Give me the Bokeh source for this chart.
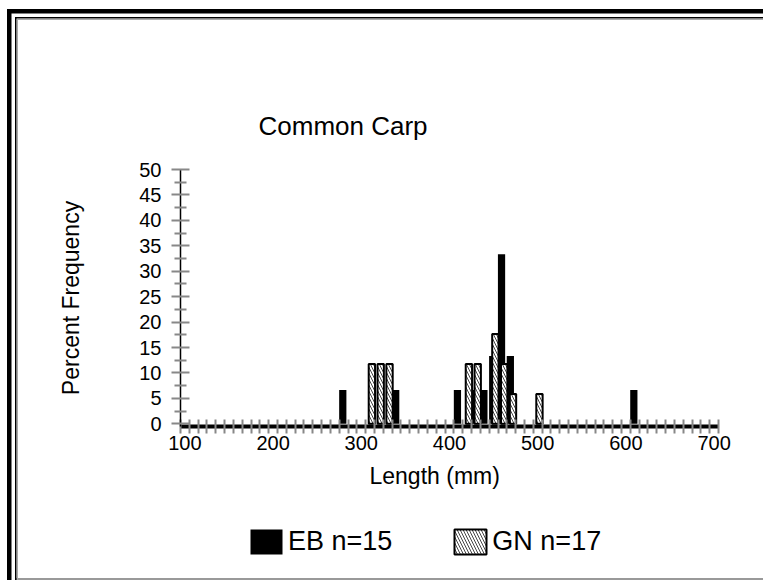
from bokeh.plotting import figure
from bokeh.layouts import column
from bokeh.models import (Range1d, FixedTicker, Legend, LegendItem, Title,
                          ColumnDataSource)
from bokeh.transform import dodge
from bokeh.embed import file_html
from bokeh.resources import INLINE

# ---------------- data ----------------
title_text = "Common Carp"
x_title = "Length (mm)"
y_title = "Percent Frequency"
eb_label = "EB n=15"
gn_label = "GN n=17"

x_tick_values = [100, 200, 300, 400, 500, 600, 700]
x_bin_edges = list(range(95, 710, 10))
y_tick_values = [0, 5, 10, 15, 20, 25, 30, 35, 40, 45, 50]
y_minor_values = [2.5, 7.5, 12.5, 17.5, 22.5, 27.5, 32.5, 37.5, 42.5, 47.5]

eb_length = [280, 340, 410, 430, 440, 450, 460, 470, 610]
eb_pct = [6.67, 6.67, 6.67, 6.67, 6.67, 13.33, 33.33, 13.33, 6.67]
gn_length = [310, 320, 330, 420, 430, 450, 460, 470, 500]
gn_pct = [11.76, 11.76, 11.76, 11.76, 11.76, 17.65, 11.76, 5.88, 5.88]

# ---------------- layout ----------------
W = 763
H_MAIN, H_LEG = 500, 80
BL, BR, BT, BB = 180, 45, 169, 74
FONT = "Liberation Sans"

p = figure(width=W, height=H_MAIN, output_backend="svg", toolbar_location=None,
           x_range=Range1d(95, 705), y_range=Range1d(-0.53, 50),
           min_border_left=BL, min_border_right=BR,
           min_border_top=BT, min_border_bottom=BB)
p.outline_line_color = None
p.grid.visible = False
p.background_fill_color = "white"
p.border_fill_color = None

eb_src = ColumnDataSource(dict(x=eb_length, y=eb_pct))
gn_src = ColumnDataSource(dict(x=gn_length, y=gn_pct))

EB_STYLE = dict(fill_color="black", line_color=None)
GN_STYLE = dict(fill_color="white", line_color="black", line_width=2,
                hatch_pattern="\\", hatch_color="#444444", hatch_scale=6,
                hatch_weight=1)

r_eb = p.vbar(x=dodge("x", -1.0, range=p.x_range), top="y", bottom=0, width=8.2,
              source=eb_src, **EB_STYLE)
r_gn = p.vbar(x=dodge("x", 2.0, range=p.x_range), top="y", bottom=0, width=7.2,
              source=gn_src, **GN_STYLE)

# chart title
p.title.text = title_text
p.title.align = "left"
p.title.offset = 78
p.title.standoff = 58
p.title.text_font = FONT
p.title.text_font_size = "26px"
p.title.text_font_style = "normal"
p.title.text_color = "black"

# axes
xa = p.xaxis[0]
xa.ticker = FixedTicker(ticks=x_tick_values, minor_ticks=x_bin_edges)
xa.axis_line_color = "black"
xa.axis_line_width = 4
xa.major_tick_line_color = None
xa.major_tick_in = 0
xa.major_tick_out = 7
xa.minor_tick_line_color = "#888888"
xa.minor_tick_line_width = 2
xa.minor_tick_in = 7
xa.minor_tick_out = 7
xa.major_label_text_font = FONT
xa.major_label_text_font_size = "20px"
xa.major_label_text_color = "black"
xa.major_label_standoff = 2

ya = p.yaxis[0]
ya.ticker = FixedTicker(ticks=y_tick_values, minor_ticks=y_minor_values)
ya.axis_line_color = "black"
ya.axis_line_width = 1.5
ya.major_tick_line_color = "#888888"
ya.major_tick_line_width = 2
ya.major_tick_in = 9
ya.major_tick_out = 9
ya.minor_tick_line_color = "#888888"
ya.minor_tick_line_width = 2
ya.minor_tick_in = 6
ya.minor_tick_out = 6
ya.major_label_text_font = FONT
ya.major_label_text_font_size = "20px"
ya.major_label_text_color = "black"
ya.major_label_standoff = 10
ya.axis_label = y_title
ya.axis_label_text_font = FONT
ya.axis_label_text_font_size = "23px"
ya.axis_label_text_font_style = "normal"
ya.axis_label_text_color = "black"
ya.axis_label_standoff = 52

# x-axis title (placed in the bottom panel so it can be offset like the original)
xt = Title(text=x_title, align="left", offset=189, standoff=17,
           text_font=FONT, text_font_size="23px", text_font_style="normal",
           text_color="black")
p.add_layout(xt, "below")

# ---------------- legend strip ----------------
# hidden proxy renderers that only feed the legend swatches
p2 = figure(width=W, height=H_LEG, output_backend="svg", toolbar_location=None,
            x_range=Range1d(95, 705), y_range=Range1d(1000, 1001),
            x_axis_type=None, y_axis_type=None, title=None,
            min_border_left=0, min_border_right=0,
            min_border_top=0, min_border_bottom=0)
p2.outline_line_color = None
p2.background_fill_color = None
p2.border_fill_color = None
l_eb = p2.vbar(x="x", top="y", bottom=0, width=8.2, source=eb_src, **EB_STYLE)
l_gn = p2.vbar(x="x", top="y", bottom=0, width=7.2, source=gn_src, **GN_STYLE)
l_eb.visible = False
l_gn.visible = False

legend = Legend(items=[LegendItem(label=eb_label, renderers=[l_eb]),
                       LegendItem(label=gn_label, renderers=[l_gn])],
                location=(66, 23.3), orientation="horizontal",
                glyph_width=40, glyph_height=31, label_standoff=2, spacing=58,
                padding=0, margin=0, border_line_color=None,
                background_fill_alpha=0, inactive_fill_alpha=0,
                label_text_font=FONT,
                label_text_font_size="27px", label_text_color="black")
p2.add_layout(legend)

# page decoration (double border at top / left, grey line at bottom)
layout = column(p, p2, spacing=0)
layout.styles = {
    "background":
        "linear-gradient(#000,#000) 7px 9px / 756px 4.5px no-repeat,"
        "linear-gradient(#000,#000) 7px 9px / 4.5px 571px no-repeat,"
        "linear-gradient(#000,#000) 15px 17px / 748px 1.5px no-repeat,"
        "linear-gradient(#000,#000) 15px 17px / 1.5px 563px no-repeat,"
        "linear-gradient(#aaa,#aaa) 16.5px 18.5px / 746.5px 1px no-repeat,"
        "linear-gradient(#aaa,#aaa) 16.5px 18.5px / 1px 561px no-repeat,"
        "linear-gradient(#999,#999) 15px 577.5px / 748px 2px no-repeat,"
        "white"
}

open("out.html", "w").write(file_html(layout, INLINE))
